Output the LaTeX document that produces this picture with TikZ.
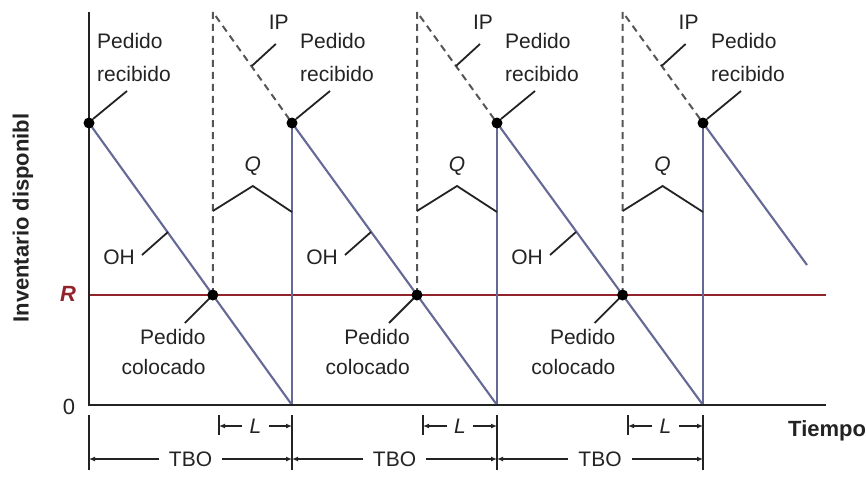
\documentclass[tikz,border=0pt]{standalone}
\usepackage{fontspec}
\setmainfont{Liberation Sans}
\usetikzlibrary{arrows.meta}
\definecolor{ohc}{RGB}{100,105,150}
\definecolor{rc}{RGB}{145,35,45}
\definecolor{dk}{RGB}{35,35,35}
\definecolor{dashc}{RGB}{85,85,90}
\begin{document}
\begin{tikzpicture}[x=1pt,y=-1pt,
 axis/.style={draw=dk,line width=2.4pt},
 ohline/.style={draw=ohc,line width=2.1pt},
 rline/.style={draw=rc,line width=2.1pt},
 ipline/.style={draw=dashc,line width=2pt,dash pattern=on 7pt off 5pt},
 leader/.style={draw=dk,line width=1.8pt},
 dim/.style={draw=dk,line width=1.6pt},
 dimarrow/.style={dim,-{Latex[length=6pt,width=5pt]}},
 dot/.style={circle,fill=black,inner sep=0pt,minimum size=11pt},
 lbl/.style={font=\fontsize{21}{32}\selectfont,text=dk,inner sep=0pt},
 axlbl/.style={font=\fontsize{22}{26}\selectfont\bfseries,text=dk,inner sep=0pt}
]
\useasboundingbox (0,0) rectangle (866,476);
\fill[white] (0,0) rectangle (866,476);

% cycle coordinates
\foreach \i/\s in {0/89,1/292,2/497,3/703}{
  \coordinate (t\i) at (\s,123);
  \coordinate (s\i) at (\s,405);
}
\foreach \i/\x in {0/212.8,1/417,2/622.6}{
  \coordinate (r\i) at (\x,295);
  \coordinate (ip\i) at (\x,12);
}
\coordinate (yaxtop) at (89,12);
\coordinate (xaxend) at (826,405);
\coordinate (rstart) at (89,295);
\coordinate (rend) at (826,295);
\coordinate (lastend) at (807,265);

% reorder level line
\draw[rline] (rstart) -- (rend);

% on-hand lines
\draw[ohline] (t0) -- (s1);
\draw[ohline] (t1) -- (s2);
\draw[ohline] (t2) -- (s3);
\draw[ohline] (t3) -- (lastend);
\draw[ohline] (t1) -- (s1);
\draw[ohline] (t2) -- (s2);
\draw[ohline] (t3) -- (s3);

% inventory position dashed
\draw[ipline] (r0) -- (ip0) -- (t1);
\draw[ipline] (r1) -- (ip1) -- (t2);
\draw[ipline] (r2) -- (ip2) -- (t3);

% axes
\draw[axis] (yaxtop) -- (s0) -- (xaxend);

% Q brackets
\foreach \i/\x/\e in {0/212.8/292,1/417/497,2/622.6/703}{
  \coordinate (qa\i) at (\x,211);
  \coordinate (qm\i) at (\x+40,186);
  \coordinate (qb\i) at (\e,212);
  \draw[leader] (qa\i) -- (qm\i) -- (qb\i);
  \node[lbl,font=\fontsize{21}{32}\selectfont\itshape] (q\i) at (\x+40,166) {Q};
  % IP label
  \coordinate (ipa\i) at (\x+39,66);
  \coordinate (ipb\i) at (\x+63,44);
  \draw[leader] (ipa\i) -- (ipb\i);
  \node[lbl] (iplab\i) at (\x+66,22) {IP};
  % pedido colocado
  \coordinate (pca\i) at (\x-3,298);
  \coordinate (pcb\i) at (\x-28,323);
  \draw[leader] (pca\i) -- (pcb\i);
  \node[lbl,align=right,anchor=east,font=\fontsize{21}{30}\selectfont] (pc\i) at (\x-7,352) {Pedido\\colocado};
}

% OH labels
\foreach \i/\s in {0/89,1/292,2/497}{
  \node[lbl] (oh\i) at (\s+30,257) {OH};
  \coordinate (oha\i) at (\s+53,255);
  \coordinate (ohb\i) at (\s+79,232);
  \draw[leader] (oha\i) -- (ohb\i);
}

% Pedido recibido labels
\foreach \i/\s in {0/89,1/292,2/497,3/703}{
  \node[lbl,align=left,anchor=west,font=\fontsize{21}{33}\selectfont] (pr\i) at (\s+8,57) {Pedido\\recibido};
  \coordinate (pra\i) at (\s+4,119);
  \coordinate (prb\i) at (\s+38,91);
  \draw[leader] (pra\i) -- (prb\i);
}

% dots
\foreach \i in {0,1,2,3}{ \node[dot] (dt\i) at (t\i) {}; }
\foreach \i in {0,1,2}{ \node[dot] (dr\i) at (r\i) {}; }

% axis labels
\node[lbl,font=\fontsize{22}{26}\selectfont] (zero) at (69,407) {0};
\node[axlbl,text=rc,font=\fontsize{22}{26}\selectfont\bfseries\itshape] (rlab) at (68,294) {R};
\node[axlbl,rotate=90] (ylab) at (23,218) {Inventario disponibl};
\node[axlbl,anchor=base west] (tiempo) at (788,436) {Tiempo};

% bottom ticks
\foreach \i/\s in {0/89,1/292,2/497,3/703}{
  \coordinate (tka\i) at (\s,415);
  \coordinate (tkb\i) at (\s,470);
  \draw[dim] (tka\i) -- (tkb\i);
}
% L dimensions
\foreach \i/\x/\e in {0/219/292,1/423/497,2/628/703}{
  \coordinate (la\i) at (\x,415);
  \coordinate (lb\i) at (\x,435);
  \draw[dim] (la\i) -- (lb\i);
  \node[lbl,font=\fontsize{21}{26}\selectfont\itshape,inner sep=7pt] (L\i) at ({(\x+\e)/2},426) {L};
  \coordinate (lleft\i) at (\x,426);
  \coordinate (lright\i) at (\e,426);
  \draw[dimarrow] (L\i.west) -- (lleft\i);
  \draw[dimarrow] (L\i.east) -- (lright\i);
}
% TBO dimensions
\foreach \i/\a/\b in {0/89/292,1/292/497,2/497/703}{
  \node[lbl,inner sep=10pt] (tbo\i) at ({(\a+\b)/2},459) {TBO};
  \coordinate (ta\i) at (\a,459);
  \coordinate (tb\i) at (\b,459);
  \draw[dimarrow] (tbo\i.west) -- (ta\i);
  \draw[dimarrow] (tbo\i.east) -- (tb\i);
}
\end{tikzpicture}
\end{document}
